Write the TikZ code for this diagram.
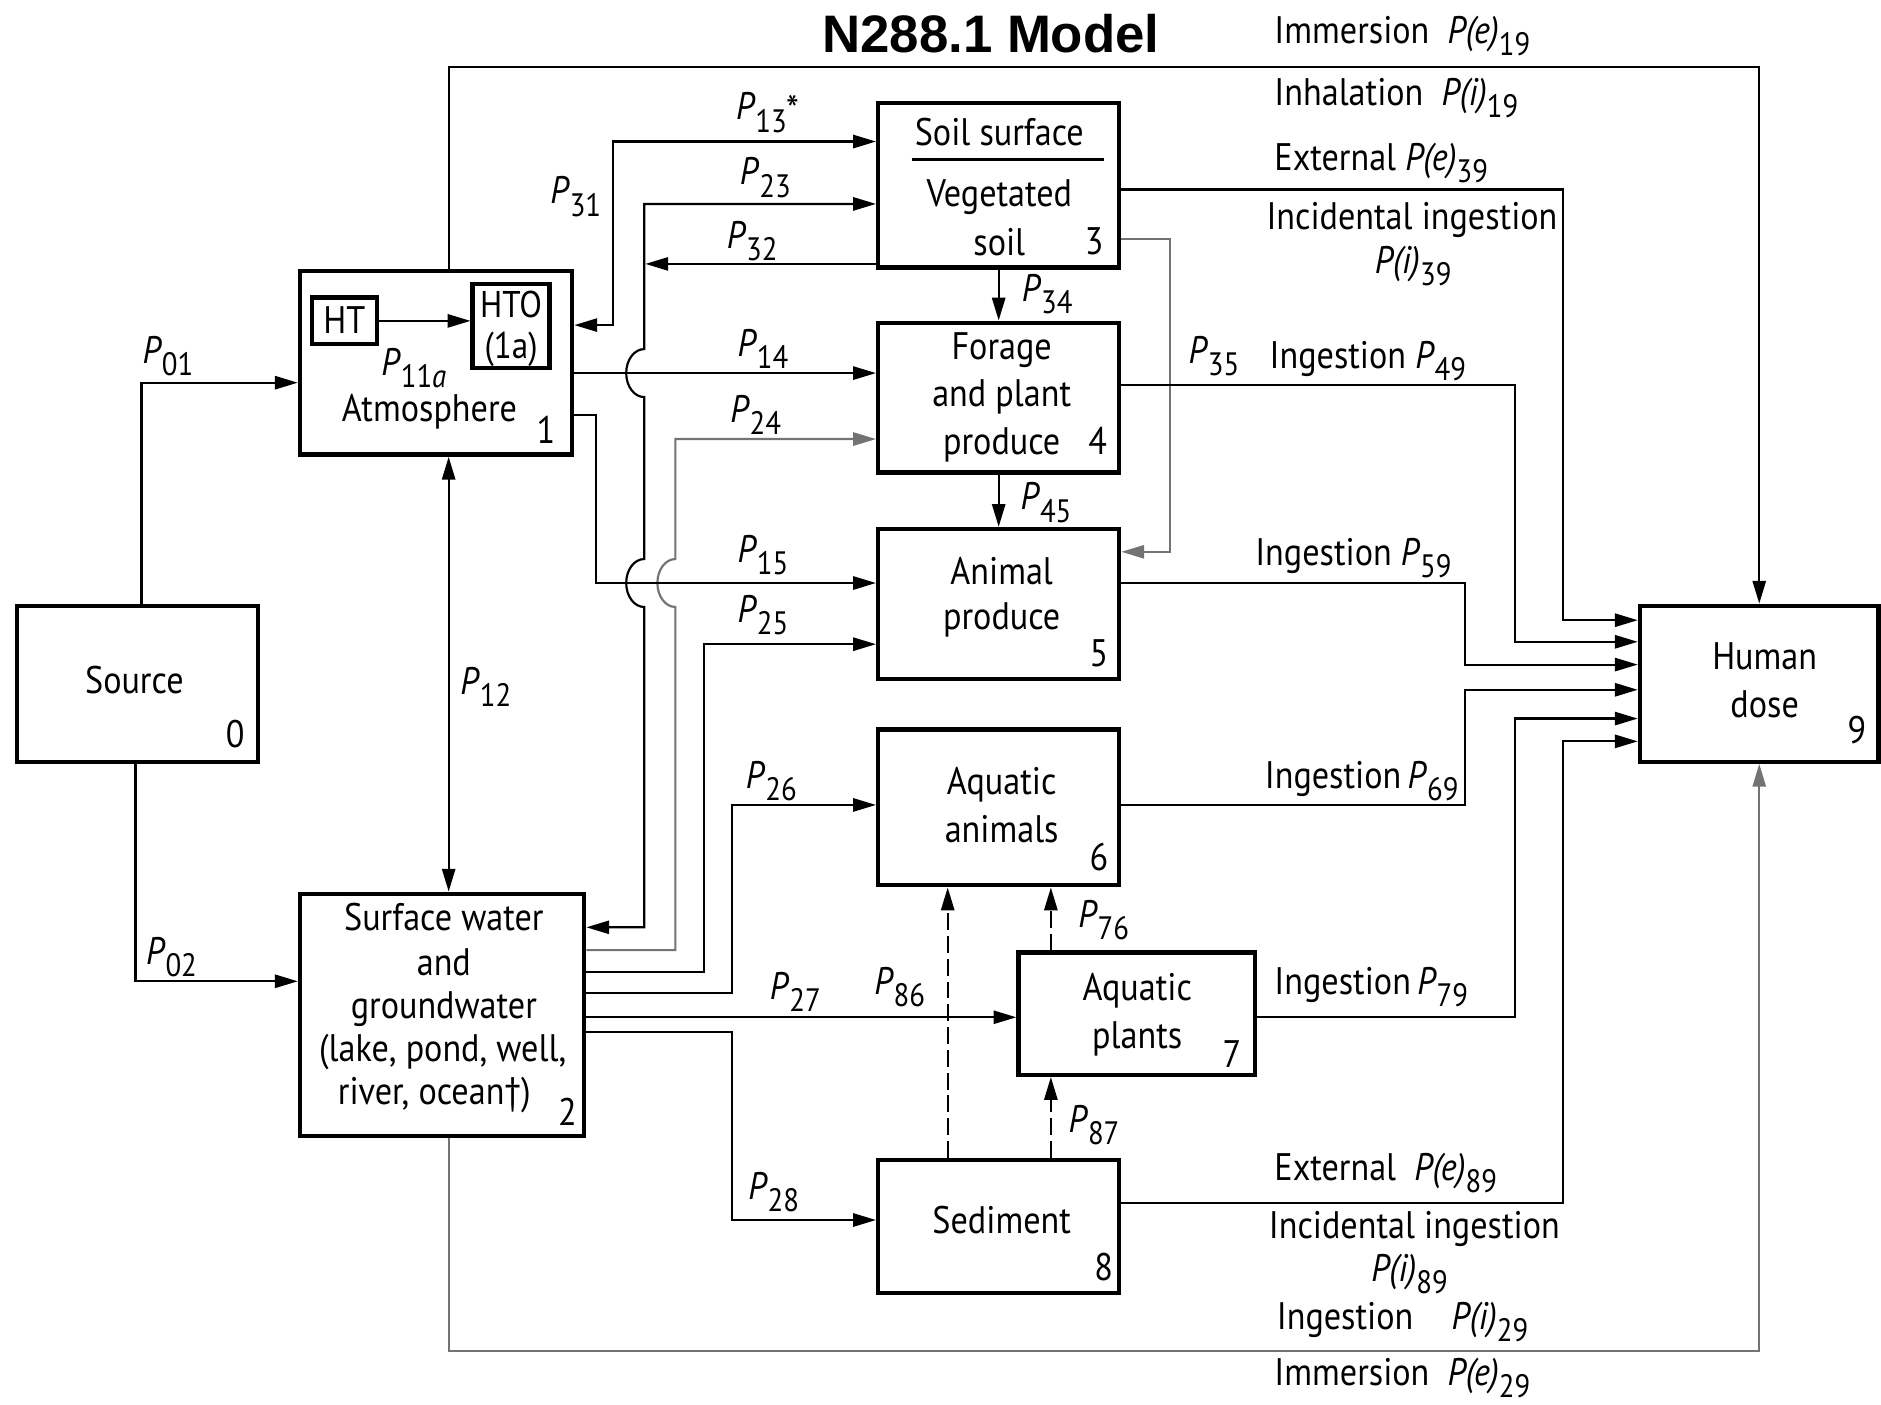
\documentclass[tikz,border=0pt]{standalone}
\usepackage{fontspec}
\setmainfont{PT Sans}[FakeStretch=0.89]
\newfontfamily\titlefont{Liberation Sans}
\usetikzlibrary{arrows.meta}
\newcommand{\sub}[1]{\raisebox{-0.32em}{\fontsize{13.5pt}{13.5pt}\selectfont #1}}
\newcommand{\Pp}[1]{\textit{P}\sub{#1}}
\begin{document}
\begin{tikzpicture}[x=0.5pt,y=-0.5pt,
  >={Triangle[length=9.5pt,width=5.5pt]},
  box/.style={draw, line width=1.8pt, inner sep=0pt},
  txt/.style={font=\fontsize{16pt}{19.75pt}\selectfont, inner sep=0pt, anchor=base},
  lbl/.style={font=\fontsize{16pt}{19pt}\selectfont, inner sep=0pt, anchor=base},
  lblw/.style={lbl, anchor=base west},
  conn/.style={line width=0.9pt, ->},
  conn2/.style={line width=0.9pt, <->},
  gconn/.style={conn, draw=black!55},
  dconn/.style={conn, dash pattern=on 7pt off 2.5pt}
]
\useasboundingbox (0,0) rectangle (1568,1171);
\fill[white] (0,0) rectangle (1568,1171);

% title
\node[inner sep=0pt, anchor=base, font=\titlefont\bfseries\fontsize{22pt}{26pt}\selectfont] (title) at (826,44) {N288.1 Model};

% boxes
\node[box, minimum width=100.5pt, minimum height=65pt] (src) at (114.5,570) {};
\node[box, minimum width=113.5pt, minimum height=76.5pt] (atm) at (363.5,302.5) {};
\node[box, minimum width=27pt, minimum height=19.5pt] (ht) at (287,267.5) {};
\node[box, minimum width=32pt, minimum height=35pt] (hto) at (426,272) {};
\node[box, minimum width=100.5pt, minimum height=68.5pt] (soil) at (832.5,154.5) {};
\node[box, minimum width=100.5pt, minimum height=62.5pt] (forage) at (832.5,331.5) {};
\node[box, minimum width=100.5pt, minimum height=62.5pt] (animal) at (832.5,503.5) {};
\node[box, minimum width=100.5pt, minimum height=65pt] (aqa) at (832.5,673) {};
\node[box, minimum width=98.5pt, minimum height=51pt] (aqp) at (947.5,845) {};
\node[box, minimum width=100.5pt, minimum height=55.5pt] (sed) at (832.5,1022.5) {};
\node[box, minimum width=118.5pt, minimum height=101pt] (sw) at (368.5,846) {};
\node[box, minimum width=99.5pt, minimum height=65pt] (hd) at (1466.5,570) {};

% box texts
\node[txt] (t0) at (112,578) {Source};
\node[txt] (n0) at (196,623) {0};
\node[txt] (t1) at (358,351) {Atmosphere};
\node[txt] (n1) at (455,370) {1};
\node[txt] (tp11) at (345,313) {\textit{P}\sub{11\textit{a}}};
\node[txt] (tht) at (287,278) {HT};
\node[txt, font=\fontsize{15.5pt}{16pt}\selectfont] (thto) at (426,265) {HTO};
\node[txt, font=\fontsize{15.5pt}{16pt}\selectfont] (thto2) at (426,299) {(1a)};
\node[txt] (t3a) at (833,121) {Soil surface};
\draw[line width=1.1pt] (760,133) -- (920,133);
\node[txt] (t3b) at (833,172) {Vegetated};
\node[txt] (t3c) at (833,213) {soil};
\node[txt] (n3) at (912,212) {3};
\node[txt] (t4a) at (835,300) {Forage};
\node[txt] (t4b) at (835,339) {and plant};
\node[txt] (t4c) at (835,379) {produce};
\node[txt] (n4) at (915,379) {4};
\node[txt] (t5a) at (835,487) {Animal};
\node[txt] (t5b) at (835,525) {produce};
\node[txt] (n5) at (916,556) {5};
\node[txt] (t6a) at (835,662) {Aquatic};
\node[txt] (t6b) at (835,702) {animals};
\node[txt] (n6) at (916,726) {6};
\node[txt] (t7a) at (948,834) {Aquatic};
\node[txt] (t7b) at (948,874) {plants};
\node[txt] (n7) at (1027,890) {7};
\node[txt] (t8) at (835,1028) {Sediment};
\node[txt] (n8) at (920,1067) {8};
\node[txt] (t2a) at (370,776) {Surface water};
\node[txt] (t2b) at (370,813) {and};
\node[txt] (t2c) at (370,849) {groundwater};
\node[txt] (t2d) at (369,885) {(lake, pond, well,};
\node[txt] (t2e) at (362,921) {river, ocean†)};
\node[txt] (n2) at (473,938) {2};
\node[txt] (t9a) at (1471,558) {Human};
\node[txt] (t9b) at (1471,598) {dose};
\node[txt] (n9) at (1548,620) {9};

% connectors
\draw[conn] (src.north -| 118,0) |- (atm.west |- 0,319);
\draw[conn] (src.south -| 113,0) |- (sw.west |- 0,818);
\draw[conn2] (sw.north -| 374,0) -- (atm.south -| 374,0);
\draw[conn] (ht.east) -- (hto.west |- ht.east);
\draw[conn] (atm.north -| 374,0) -- (374,56) -| (hd.north);
\draw[gconn] (sw.south -| 374,0) -- (374,1126) -| (hd.south);

\draw[conn2] (atm.east |- 0,271) -| (511,118) -- (soil.west |- 0,118);
\draw[conn2] (sw.east |- 0,773) -- (537,773) -- (537,506)
   arc[start angle=270, end angle=90, x radius=7.5pt, y radius=10pt] -- (537,331)
   arc[start angle=270, end angle=90, x radius=7.5pt, y radius=10pt] -- (537,170) -- (soil.west |- 0,170);
\draw[conn] (soil.west |- 0,220) -- (538,220);
\draw[conn] (atm.east |- 0,311) -- (forage.west |- 0,311);
\draw[gconn] (sw.east |- 0,792) -- (563,792) -- (563,506)
   arc[start angle=270, end angle=90, x radius=7.5pt, y radius=10pt] -- (563,366) -- (forage.west |- 0,366);
\draw[conn] (atm.east |- 0,346) -- (497,346) |- (animal.west |- 0,486);
\draw[conn] (sw.east |- 0,810) -| (587,537) -- (animal.west |- 0,537);
\draw[conn] (sw.east |- 0,828) -| (610,671) -- (aqa.west |- 0,671);
\draw[conn] (sw.east |- 0,848) -- (aqp.west |- 0,848);
\draw[conn] (sw.east |- 0,860) -| (610,1017) -- (sed.west |- 0,1017);

\draw[conn] (soil.south) -- (forage.north);
\draw[conn] (forage.south) -- (animal.north);
\draw[gconn] (soil.east |- 0,199) -- (975,199) |- (animal.east |- 0,460);
\draw[dconn] (sed.north -| 790,0) -- (aqa.south -| 790,0);
\draw[dconn] (aqp.north -| 876,0) -- (aqa.south -| 876,0);
\draw[dconn] (sed.north -| 876,0) -- (aqp.south -| 876,0);

\draw[conn] (soil.east |- 0,158) -| (1303,517) -- (hd.west |- 0,517);
\draw[conn] (forage.east |- 0,321) -| (1263,535) -- (hd.west |- 0,535);
\draw[conn] (animal.east |- 0,486) -| (1221,554) -- (hd.west |- 0,554);
\draw[conn] (aqa.east |- 0,671) -| (1221,575) -- (hd.west |- 0,575);
\draw[conn] (aqp.east |- 0,848) -| (1263,599) -- (hd.west |- 0,599);
\draw[conn] (sed.east |- 0,1003) -| (1303,618) -- (hd.west |- 0,618);

% connector labels
\node[lbl] (p13) at (640,100) {\Pp{13}\raisebox{-0.12em}{\fontsize{17pt}{17pt}\selectfont *}};
\node[lbl] (p31) at (480,170) {\Pp{31}};
\node[lbl] (p23) at (638,154) {\Pp{23}};
\node[lbl] (p32) at (627,207) {\Pp{32}};
\node[lbl] (p14) at (636,297) {\Pp{14}};
\node[lbl] (p24) at (630,352) {\Pp{24}};
\node[lbl] (p15) at (636,469) {\Pp{15}};
\node[lbl] (p25) at (636,519) {\Pp{25}};
\node[lbl] (p26) at (643,657) {\Pp{26}};
\node[lbl] (p27) at (663,833) {\Pp{27}};
\node[lbl] (p86) at (750,829) {\Pp{86}};
\node[lbl] (p28) at (645,1000) {\Pp{28}};
\node[lbl] (p34) at (873,251) {\Pp{34}};
\node[lbl] (p45) at (872,425) {\Pp{45}};
\node[lbl] (p35) at (1012,303) {\Pp{35}};
\node[lbl] (p76) at (920,773) {\Pp{76}};
\node[lbl] (p87) at (912,944) {\Pp{87}};
\node[lbl] (p12) at (405,579) {\Pp{12}};
\node[lbl] (p01) at (140,303) {\Pp{01}};
\node[lbl] (p02) at (143,804) {\Pp{02}};

% exposure labels
\node[lblw] (l19e) at (1062,36) {Immersion\ \ \textit{P(e)}\sub{19}};
\node[lblw] (l19i) at (1062,88) {Inhalation\ \ \textit{P(i)}\sub{19}};
\node[lblw] (l39e) at (1062,142) {External \textit{P(e)}\sub{39}};
\node[lbl] (l39i) at (1177,191) {Incidental ingestion};
\node[lbl] (l39j) at (1178,228) {\textit{P(i)}\sub{39}};
\node[lblw] (l49) at (1058,307) {Ingestion \Pp{49}};
\node[lblw] (l59) at (1046,471) {Ingestion \Pp{59}};
\node[lblw] (l69) at (1054,657) {Ingestion\,\Pp{69}};
\node[lblw] (l79) at (1062,829) {Ingestion\,\Pp{79}};
\node[lblw] (l89e) at (1062,984) {External\ \ \textit{P(e)}\sub{89}};
\node[lbl] (l89i) at (1179,1032) {Incidental ingestion};
\node[lbl] (l89j) at (1175,1068) {\textit{P(i)}\sub{89}};
\node[lblw] (l29i) at (1064,1108) {Ingestion\quad\textit{P(i)}\sub{29}};
\node[lblw] (l29e) at (1062,1155) {Immersion\ \ \textit{P(e)}\sub{29}};
\end{tikzpicture}
\end{document}
